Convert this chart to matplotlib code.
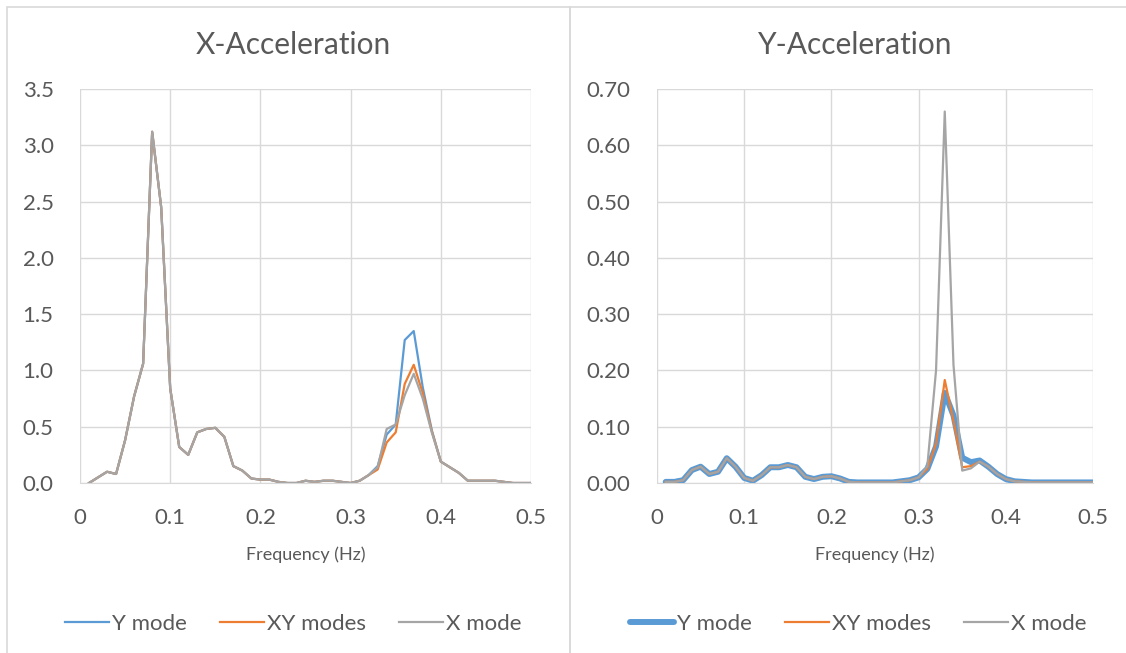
import matplotlib
matplotlib.use("Agg")
import matplotlib.pyplot as plt
from matplotlib.patches import Rectangle

plt.rcParams['font.family'] = ['Lato', 'DejaVu Sans']

# Données
freq = [0.01, 0.02, 0.03, 0.04, 0.05, 0.06, 0.07, 0.08, 0.09, 0.10,
        0.11, 0.12, 0.13, 0.14, 0.15, 0.16, 0.17, 0.18, 0.19, 0.20,
        0.21, 0.22, 0.23, 0.24, 0.25, 0.26, 0.27, 0.28, 0.29, 0.30,
        0.31, 0.32, 0.33, 0.34, 0.35, 0.36, 0.37, 0.38, 0.39, 0.40,
        0.41, 0.42, 0.43, 0.44, 0.45, 0.46, 0.47, 0.48, 0.49, 0.50]

# X-Acceleration
xacc_y_mode = [0.00, 0.05, 0.10, 0.08, 0.38, 0.77, 1.06, 3.12, 2.45, 0.84,
               0.32, 0.25, 0.45, 0.48, 0.49, 0.41, 0.15, 0.11, 0.04, 0.03,
               0.03, 0.01, 0.00, 0.00, 0.02, 0.01, 0.02, 0.02, 0.01, 0.00,
               0.02, 0.07, 0.15, 0.43, 0.52, 1.27, 1.35, 0.85, 0.47, 0.19,
               0.14, 0.09, 0.02, 0.02, 0.02, 0.02, 0.01, 0.00, 0.00, 0.00]
xacc_xy_modes = [0.00, 0.05, 0.10, 0.08, 0.38, 0.77, 1.06, 3.12, 2.45, 0.84,
                 0.32, 0.25, 0.45, 0.48, 0.49, 0.41, 0.15, 0.11, 0.04, 0.03,
                 0.03, 0.01, 0.00, 0.00, 0.02, 0.01, 0.02, 0.02, 0.01, 0.00,
                 0.02, 0.07, 0.12, 0.36, 0.45, 0.88, 1.05, 0.80, 0.46, 0.19,
                 0.14, 0.09, 0.02, 0.02, 0.02, 0.02, 0.01, 0.00, 0.00, 0.00]
xacc_x_mode = [0.00, 0.05, 0.10, 0.08, 0.38, 0.77, 1.06, 3.12, 2.45, 0.84,
               0.32, 0.25, 0.45, 0.48, 0.49, 0.41, 0.15, 0.11, 0.04, 0.03,
               0.03, 0.01, 0.00, 0.00, 0.02, 0.01, 0.02, 0.02, 0.01, 0.00,
               0.02, 0.07, 0.14, 0.48, 0.52, 0.78, 0.97, 0.75, 0.45, 0.19,
               0.14, 0.09, 0.02, 0.02, 0.02, 0.02, 0.01, 0.00, 0.00, 0.00]

# Y-Acceleration
yacc_y_mode = [0.002, 0.002, 0.005, 0.023, 0.029, 0.016, 0.020, 0.044, 0.029, 0.009,
               0.004, 0.014, 0.028, 0.028, 0.032, 0.028, 0.011, 0.007, 0.011, 0.012,
               0.008, 0.002, 0.001, 0.001, 0.001, 0.001, 0.001, 0.003, 0.005, 0.010,
               0.025, 0.065, 0.160, 0.120, 0.045, 0.037, 0.040, 0.029, 0.016, 0.007,
               0.003, 0.002, 0.001, 0.001, 0.001, 0.001, 0.001, 0.001, 0.001, 0.001]
yacc_xy_modes = [0.002, 0.002, 0.005, 0.023, 0.029, 0.016, 0.020, 0.044, 0.029, 0.009,
                 0.004, 0.014, 0.028, 0.028, 0.032, 0.028, 0.011, 0.007, 0.011, 0.012,
                 0.008, 0.002, 0.001, 0.001, 0.001, 0.001, 0.001, 0.003, 0.005, 0.010,
                 0.025, 0.070, 0.183, 0.110, 0.028, 0.030, 0.038, 0.029, 0.016, 0.007,
                 0.003, 0.002, 0.001, 0.001, 0.001, 0.001, 0.001, 0.001, 0.001, 0.001]
yacc_x_mode = [0.002, 0.002, 0.005, 0.023, 0.029, 0.016, 0.020, 0.044, 0.029, 0.009,
               0.004, 0.014, 0.028, 0.028, 0.032, 0.028, 0.011, 0.007, 0.011, 0.012,
               0.008, 0.002, 0.001, 0.001, 0.001, 0.001, 0.001, 0.003, 0.005, 0.010,
               0.030, 0.200, 0.660, 0.210, 0.022, 0.026, 0.038, 0.029, 0.016, 0.007,
               0.003, 0.002, 0.001, 0.001, 0.001, 0.001, 0.001, 0.001, 0.001, 0.001]

x_ticks = [0, 0.1, 0.2, 0.3, 0.4, 0.5]
x_ticklabels = ['0', '0.1', '0.2', '0.3', '0.4', '0.5']
left_yticks = [0.0, 0.5, 1.0, 1.5, 2.0, 2.5, 3.0, 3.5]
right_yticks = [0.0, 0.1, 0.2, 0.3, 0.4, 0.5, 0.6, 0.7]
series_names = ['Y mode', 'XY modes', 'X mode']

BLUE = '#5B9BD5'
ORANGE = '#ED7D31'
GRAY = '#A5A5A5'
TXT = '#595959'
GRID = '#D9D9D9'

W, H = 1126, 653


def px_box(left, top, right, bottom):
    # convertit des pixels en coordonnées figure
    return [left / W, (H - bottom) / H, (right - left) / W, (bottom - top) / H]


fig = plt.figure(figsize=(W / 100, H / 100), dpi=100)
fig.patch.set_facecolor('white')

# Cadres des deux graphiques
for x0, x1 in [(7, 570), (570, 1130)]:
    fig.patches.append(Rectangle((x0 / W, -0.01), (x1 - x0) / W, (H - 6.5) / H + 0.01,
                                 transform=fig.transFigure, fill=False,
                                 edgecolor=GRID, linewidth=1.2))


def setup_axes(ax, yticks, yfmt, ymax):
    ax.set_xlim(0, 0.5)
    ax.set_ylim(0, ymax)
    ax.set_xticks(x_ticks)
    ax.set_xticklabels(x_ticklabels)
    ax.set_yticks(yticks)
    ax.set_yticklabels([yfmt.format(v) for v in yticks])
    ax.tick_params(length=0, labelsize=16, colors=TXT)
    ax.tick_params(axis='y', pad=19)
    ax.tick_params(axis='x', pad=18)
    ax.grid(True, color=GRID, linewidth=1)
    ax.set_axisbelow(True)
    for s in ['top', 'right', 'left']:
        ax.spines[s].set_visible(False)
    ax.spines['bottom'].set_color(GRID)
    ax.set_xlabel('Frequency (Hz)', fontsize=13, color=TXT)
    ax.xaxis.set_label_coords(0.5, -0.162)


# Graphique gauche : X-Acceleration
ax1 = fig.add_axes(px_box(80, 89, 531, 483))
ax1.plot(freq, xacc_y_mode, color=BLUE, lw=1.6, label=series_names[0])
ax1.plot(freq, xacc_xy_modes, color=ORANGE, lw=1.6, label=series_names[1])
ax1.plot(freq, xacc_x_mode, color=GRAY, lw=1.6, label=series_names[2])
setup_axes(ax1, left_yticks, '{:.1f}', 3.5)
fig.text(293 / W, 1 - 45 / H, 'X-Acceleration', fontsize=21.5, color=TXT, ha='center', va='center')

# Graphique droit : Y-Acceleration
ax2 = fig.add_axes(px_box(657, 89, 1093, 483))
ax2.plot(freq, yacc_y_mode, color=BLUE, lw=4.3, label=series_names[0], solid_capstyle='round')
ax2.plot(freq, yacc_xy_modes, color=ORANGE, lw=1.6, label=series_names[1])
ax2.plot(freq, yacc_x_mode, color=GRAY, lw=1.6, label=series_names[2])
setup_axes(ax2, right_yticks, '{:.2f}', 0.7)
fig.text(855 / W, 1 - 45 / H, 'Y-Acceleration', fontsize=21.5, color=TXT, ha='center', va='center')

# Légendes
for ax, cx in [(ax1, 293), (ax2, 858)]:
    handles, labels = ax.get_legend_handles_labels()
    fig.legend(handles, labels, loc='center', bbox_to_anchor=(cx / W, 1 - 624 / H),
               ncol=3, frameon=False, fontsize=16, handlelength=2.0,
               handletextpad=0.1, columnspacing=1.5, labelcolor=TXT)

fig.savefig('out.png', dpi=100, facecolor='white')
